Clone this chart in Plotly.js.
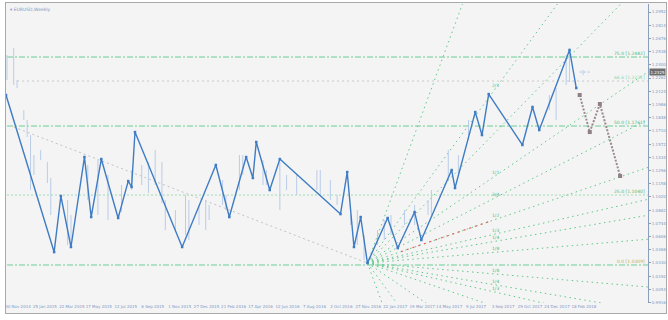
<!DOCTYPE html>
<html><head><meta charset="utf-8">
<script src="https://cdn.plot.ly/plotly-3.0.1.min.js"></script>
<style>
html,body{margin:0;padding:0;background:#fff;width:668px;height:320px;overflow:hidden}
#frame{position:absolute;left:5px;top:2px;width:660px;height:310px;border:1px solid #a9a9a9;background:#f4f4f4}
#chart{width:660px;height:310px}
</style></head><body><div id="frame"><div id="chart"></div></div>
<script>
// ---- data ----
const zzDates = ['2014-11-28','2015-03-08','2015-03-22','2015-04-12','2015-05-10','2015-05-24','2015-06-14','2015-07-19','2015-08-09','2015-08-16','2015-08-23','2015-11-29','2016-02-07','2016-03-06','2016-04-10','2016-04-24','2016-05-01','2016-05-29','2016-06-19','2016-10-23','2016-11-06','2016-11-20','2016-12-04','2016-12-18','2017-01-29','2017-02-19','2017-03-26','2017-04-09','2017-06-11','2017-06-18','2017-07-30','2017-08-13','2017-08-27','2017-11-05','2017-11-26','2017-12-10','2018-02-11','2018-02-25'];
const zzPrices = [1.2085,1.0444,1.1030,1.0497,1.1437,1.0810,1.1416,1.0800,1.1186,1.1124,1.1698,1.0497,1.1354,1.0810,1.1437,1.1218,1.1594,1.1092,1.1416,1.0841,1.1280,1.0497,1.0810,1.0329,1.0800,1.0486,1.0862,1.0570,1.1301,1.1113,1.1907,1.1667,1.2095,1.1563,1.1960,1.1719,1.2555,1.2158];

const projDates = ['2018-03-04','2018-03-25','2018-04-15','2018-05-27'];
const projPrices = [1.2085,1.1698,1.1991,1.1239];

const barDates = ['2014-11-30','2014-12-14','2014-12-21','2015-01-04','2015-01-11','2015-01-18','2015-01-25','2015-02-08','2015-02-22','2015-03-01','2015-04-05','2015-04-12','2015-05-17','2015-06-07','2015-06-28','2015-07-26','2015-08-16','2015-09-06','2015-09-20','2015-10-04','2015-10-18','2015-10-25','2015-11-15','2015-12-06','2015-12-13','2016-01-03','2016-01-17','2016-01-24','2016-02-21','2016-02-28','2016-03-27','2016-04-03','2016-05-15','2016-05-22','2016-06-19','2016-07-03','2016-07-24','2016-09-04','2016-09-11','2016-10-02','2016-10-16','2016-11-13','2016-11-27','2016-12-11','2017-01-08','2017-01-22','2017-02-05','2017-03-05','2017-03-26','2017-04-23','2017-04-30','2017-06-04','2017-06-25','2017-07-16','2017-12-31','2018-01-14','2018-02-04','2018-02-11','2018-03-11'];
const barHigh = [1.2503,1.2576,1.2242,1.1928,1.1824,1.1667,1.1458,1.1510,1.1385,1.1218,1.0988,1.0831,1.1354,1.1406,1.1249,1.1145,1.1301,1.1354,1.1385,1.1510,1.1385,1.0988,1.0883,1.1040,1.0988,1.0936,1.0988,1.0936,1.1197,1.1040,1.1458,1.1458,1.1406,1.1301,1.1385,1.1249,1.1249,1.1301,1.1301,1.1197,1.1040,1.0831,1.0883,1.0622,1.0674,1.0779,1.0831,1.0883,1.0936,1.0988,1.1092,1.1510,1.1458,1.1824,1.2085,1.2158,1.2503,1.2576,1.2346];
const barLow = [1.2242,1.2190,1.2158,1.1824,1.1646,1.1092,1.1249,1.1406,1.1165,1.0831,1.0518,1.0570,1.0988,1.0831,1.0779,1.0862,1.1092,1.1145,1.1061,1.1145,1.0956,1.0674,1.0674,1.0622,1.0570,1.0727,1.0674,1.0779,1.0936,1.0883,1.1092,1.1249,1.1145,1.1145,1.0883,1.1092,1.1040,1.1092,1.1040,1.0988,1.0936,1.0727,1.0518,1.0361,1.0518,1.0570,1.0622,1.0727,1.0727,1.0831,1.0831,1.1197,1.1249,1.1615,1.1928,1.1824,1.2190,1.2221,1.2294];

const trendDates = ['2014-12-14','2016-12-18'];
const trendPrices = [1.1751,1.0329];

const fibPrices = [1.2482,1.2231,1.1761,1.1040,1.0309];
const fibLabels = ['75.0 [1.2482]','66.6 [1.2231]','50.0 [1.1761]','25.0 [1.1040]','0.0 [1.0309]'];
const fibStart = ['2014-11-30','2014-12-21','2014-11-30','2014-11-30','2014-11-30'];

const gannOriginDate = '2016-12-18';
const gannOriginPrice = 1.0329;
const gannUnitPerWeek = 0.0024;
const gannRatios = [4,2,1.5,1,0.75,0.5,1/3,1/4,1/8,-1/8,-1/4,-1/3,-1/2,-1,-2,-4];
const gannLabelRatios = [2,1,0.75,0.5,1/3,1/4,1/8,-1/8,-1/4,-1/3];
const gannLabels = ['2/1','1/1','3/4','1/2','1/3','1/4','1/8','1/8','1/4','1/3'];
const gannLabelDate = '2017-09-10';
const redSegDates = ['2017-02-26','2017-08-27'];
const redSegRatio = 0.5;

const xTickDates = ['2014-11-30','2015-01-25','2015-03-22','2015-05-17','2015-07-12','2015-09-06','2015-11-01','2015-12-27','2016-02-21','2016-04-17','2016-06-12','2016-08-07','2016-10-02','2016-11-27','2017-01-22','2017-03-19','2017-05-14','2017-07-09','2017-09-03','2017-10-29','2017-12-24','2018-02-18'];
const xTickText = ['30 Nov 2014','25 Jan 2015','22 Mar 2015','17 May 2015','12 Jul 2015','6 Sep 2015','1 Nov 2015','27 Dec 2015','21 Feb 2016','17 Apr 2016','12 Jun 2016','7 Aug 2016','2 Oct 2016','27 Nov 2016','22 Jan 2017','19 Mar 2017','14 May 2017','9 Jul 2017','3 Sep 2017','29 Oct 2017','24 Dec 2017','18 Feb 2018'];
const yTicks = [1.2952,1.2814,1.2676,1.2538,1.2400,1.2262,1.2124,1.1986,1.1848,1.1710,1.1572,1.1434,1.1296,1.1158,1.1020,1.0882,1.0744,1.0606,1.0468,1.0330,1.0192,1.0054,0.9916];
const yTickText = ['1.2952','1.2814','1.2676','1.2538','1.2400','1.2262','1.2124','1.1986','1.1848','1.1710','1.1572','1.1434','1.1296','1.1158','1.1020','1.0882','1.0744','1.0606','1.0468','1.0330','1.0192','1.0054','0.9916'];
const currentPrice = 1.2325;
const bidDates = ['2018-03-04','2018-03-25'];

const xRange = ['2014-11-28','2018-07-24'];
const yRange = [0.9912,1.3036];

// ---- build ----
const traces = [];
const DAY = 86400000;
function weeksFrom(a,b){return (new Date(b)-new Date(a))/DAY/7;}
function gannPrice(r,d){return gannOriginPrice + r*gannUnitPerWeek*weeksFrom(gannOriginDate,d);}

const fibStyle = [
  {c:'#6ccf95',d:'6px,2px,2px,2px'},
  {c:'#c8c8c8',d:'2px,3px'},
  {c:'#6ccf95',d:'6px,2px,2px,2px'},
  {c:'#9ddcb5',d:'2px,2px'},
  {c:'#6ccf95',d:'6px,2px,2px,2px'}
];
fibPrices.forEach((p,i)=>{
  traces.push({x:[fibStart[i],'2019-01-01'],y:[p,p],mode:'lines',
    line:{color:fibStyle[i].c,width:1,dash:fibStyle[i].d},hoverinfo:'skip',showlegend:false});
});
traces.push({x:trendDates,y:trendPrices,mode:'lines',line:{color:'#c2c2c2',width:1,dash:'2px,3px'},hoverinfo:'skip',showlegend:false});

const farDate = '2020-01-01';
gannRatios.forEach(r=>{
  traces.push({x:[gannOriginDate,farDate],y:[gannOriginPrice,gannPrice(r,farDate)],mode:'lines',
    line:{color:'#62c98a',width:1,dash:'1.5px,3.5px'},hoverinfo:'skip',showlegend:false});
});
traces.push({x:redSegDates,y:redSegDates.map(d=>gannPrice(redSegRatio,d)),mode:'lines',
  line:{color:'#e0645c',width:1.2,dash:'2px,4px'},hoverinfo:'skip',showlegend:false});

const bx=[],by=[];
barDates.forEach((d,i)=>{bx.push(d,d,null);by.push(barLow[i],barHigh[i],null);});
traces.push({x:bx,y:by,mode:'lines',line:{color:'#b9cce8',width:1},hoverinfo:'skip',showlegend:false,connectgaps:false});

traces.push({x:zzDates,y:zzPrices,mode:'lines+markers',line:{color:'#3f7cc4',width:1.4},
  marker:{symbol:'square',size:2.5,color:'#3f7cc4'},hoverinfo:'skip',showlegend:false});
traces.push({x:projDates,y:projPrices,mode:'lines+markers',line:{color:'#9a8a8e',width:2,dash:'2px,1.5px'},
  marker:{symbol:'square',size:4,color:'#8f8085'},hoverinfo:'skip',showlegend:false});
traces.push({x:bidDates,y:[currentPrice,currentPrice],mode:'lines',line:{color:'#a9c1e3',width:1,dash:'2px,2px'},hoverinfo:'skip',showlegend:false});

const annotations = [];
fibPrices.forEach((p,i)=>{
  annotations.push({xref:'paper',x:1,xanchor:'right',yref:'y',y:p,yanchor:'bottom',text:fibLabels[i],showarrow:false,
    font:{family:'DejaVu Sans',size:4.5,color:i===4?'#c3b24a':(i===1?'#8fd9ab':'#52b97a')},xshift:-1,yshift:-1});
});
gannLabelRatios.forEach((r,i)=>{
  annotations.push({x:gannLabelDate,y:gannPrice(r,gannLabelDate),yanchor:'bottom',text:gannLabels[i],showarrow:false,
    font:{family:'DejaVu Sans',size:4.5,color:'#52b97a'},yshift:-1});
});
annotations.push({xref:'paper',x:0,xanchor:'left',yref:'paper',y:1,yanchor:'top',text:'▾ EURUSD,Weekly',showarrow:false,
  font:{family:'DejaVu Sans',size:4.5,color:'#7d98c6'},xshift:2,yshift:-1});
annotations.push({xref:'paper',x:1,xanchor:'left',yref:'y',y:currentPrice,text:currentPrice.toFixed(4),showarrow:false,
  bgcolor:'#6e6e6e',font:{family:'DejaVu Sans',size:4,color:'#ffffff'},borderpad:0.5,xshift:1});

const layout = {
  width:660,height:310,
  margin:{l:0,r:18,t:1,b:10,pad:0},
  paper_bgcolor:'#f4f4f4',plot_bgcolor:'#f4f4f4',
  showlegend:false,
  xaxis:{type:'date',range:xRange,tickmode:'array',tickvals:xTickDates,ticktext:xTickText,tickangle:0,
    showgrid:false,zeroline:false,showline:false,ticks:'',fixedrange:true,automargin:false,
    ticklabeloverflow:'allow',
    tickfont:{family:'DejaVu Sans',size:4,color:'#7d98c6'},ticklabelshift:11,ticklabelstandoff:0},
  yaxis:{side:'right',range:yRange,tickmode:'array',tickvals:yTicks,ticktext:yTickText,automargin:false,
    showgrid:false,zeroline:false,showline:true,linecolor:'#8aa0ba',linewidth:1,mirror:false,
    ticks:'outside',ticklen:2,tickcolor:'#8aa0ba',ticklabeloverflow:'allow',
    tickfont:{family:'DejaVu Sans',size:4,color:'#7d98c6'},ticklabelstandoff:0},
  annotations:annotations
};
Plotly.newPlot('chart',traces,layout,{staticPlot:true,displayModeBar:false});
</script></body></html>
